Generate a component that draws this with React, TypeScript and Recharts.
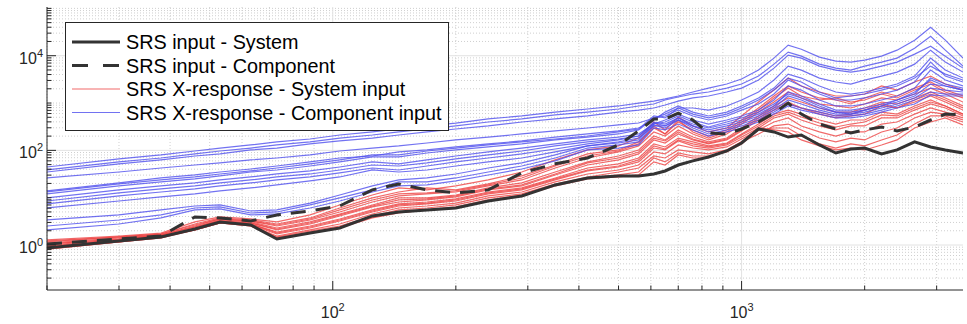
import React from 'react';
import { LineChart, Line, XAxis, YAxis, CartesianGrid, Legend } from 'recharts';

// ---------- data ----------
const FREQ = [20, 30, 38, 46, 53, 63, 73, 88, 104, 125, 145, 170, 200, 240, 290, 350, 420, 500, 560, 610, 650, 700, 760, 830, 920, 1000, 1100, 1200, 1300, 1400, 1550, 1700, 1850, 2000, 2200, 2400, 2650, 2900, 3150, 3480];

const SRS_INPUT_SYSTEM = [0.86, 1.22, 1.48, 2.18, 3.07, 2.65, 1.34, 1.79, 2.29, 4.11, 4.99, 5.51, 6.06, 8.5, 10.9, 18.6, 26.1, 28.8, 28.8, 31.7, 36.7, 49, 60, 72.5, 97, 143, 283, 245, 191, 211, 130, 88, 107, 112, 84, 102, 151, 118, 102, 88];
const SRS_INPUT_COMPONENT = [1.05, 1.34, 1.55, 3.92, 3.73, 3.22, 4.32, 5.24, 6.68, 14.6, 19.5, 14.6, 12.6, 14.6, 33.3, 52, 69, 130, 257, 461, 461, 613, 438, 233, 222, 283, 397, 613, 1000, 584, 360, 283, 233, 270, 312, 257, 312, 438, 584, 560];

// X-response, component input (blue)
const COMP_RESP_1 = [44.5, 66, 80, 97, 112, 130, 151, 174, 211, 245, 283, 328, 378, 461, 533, 644, 749, 867, 1000, 1100, 1220, 1410, 1710, 2070, 2520, 3210, 4970, 8900, 16700, 13700, 9340, 7690, 7320, 8070, 9800, 13100, 21300, 39900, 21300, 8900];
const COMP_RESP_2 = [34.9, 52, 63, 76, 84, 102, 112, 137, 158, 182, 211, 245, 283, 328, 397, 461, 533, 644, 710, 786, 910, 1100, 1280, 1410, 1710, 2070, 3060, 5470, 10300, 8900, 6030, 4970, 4510, 4970, 6030, 7320, 10800, 15900, 9800, 5470];
const COMP_RESP_3 = [26.1, 34.9, 42.4, 49, 54.5, 63, 69, 80, 97, 112, 124, 143, 166, 191, 222, 257, 297, 344, 378, 484, 584, 786, 786, 710, 867, 1160, 1710, 3060, 6030, 4970, 3370, 2780, 2520, 3060, 3710, 4510, 6640, 13100, 7320, 4510];
const COMP_RESP_4 = [13.9, 20.5, 26.1, 30.2, 34.9, 40.4, 46.7, 57, 69, 76, 92.5, 102, 118, 137, 158, 191, 222, 257, 297, 438, 644, 867, 644, 533, 644, 867, 1280, 2070, 4090, 3370, 2290, 1710, 1550, 1710, 2070, 2520, 3710, 8900, 4970, 3370];
const COMP_RESP_5 = [12.0, 17.7, 21.5, 24.9, 28.8, 34.9, 38.5, 46.7, 57, 72.5, 72.5, 88, 102, 118, 137, 166, 191, 222, 270, 484, 533, 710, 533, 438, 533, 710, 955, 1550, 3060, 2290, 1550, 1160, 1160, 1280, 1550, 1880, 2780, 7320, 3710, 2780];
const COMP_RESP_6 = [9.9, 14.6, 17.7, 20.5, 23.7, 27.4, 31.7, 36.7, 44.5, 57, 52, 63, 76, 92.5, 112, 137, 166, 191, 222, 360, 438, 584, 438, 360, 438, 533, 710, 1160, 2290, 1880, 1160, 867, 867, 955, 1160, 1410, 2070, 4970, 3060, 2290];
const COMP_RESP_7 = [7.37, 10.9, 13.2, 15.3, 17.7, 20.5, 23.7, 27.4, 33.3, 42.4, 38.5, 46.7, 57, 69, 84, 107, 137, 166, 201, 397, 360, 484, 360, 297, 360, 438, 584, 867, 1710, 1410, 955, 710, 710, 786, 955, 1160, 1550, 3370, 2520, 2070];
const COMP_RESP_8 = [6.06, 8.5, 10.4, 12.0, 13.9, 16.1, 18.6, 22.6, 27.4, 38.5, 34.9, 38.5, 46.7, 57, 69, 92.5, 124, 151, 182, 328, 328, 438, 328, 270, 328, 397, 533, 786, 1410, 1160, 786, 644, 644, 710, 867, 1050, 1410, 2520, 2290, 1880];
const COMP_RESP_9 = [3.38, 4.32, 5.51, 6.68, 7.02, 5.24, 5.51, 7.7, 11.4, 17.7, 23.7, 26.1, 31.7, 42.4, 54.5, 80, 124, 143, 166, 378, 328, 484, 328, 245, 297, 360, 484, 710, 1160, 955, 710, 584, 584, 644, 786, 955, 1280, 2070, 1880, 1710];
const COMP_RESP_10 = [2.52, 3.38, 4.32, 6.06, 6.37, 4.75, 4.99, 7.02, 9.9, 14.6, 21.5, 21.5, 26.1, 34.9, 46.7, 69, 112, 130, 151, 344, 297, 438, 297, 222, 270, 328, 438, 644, 955, 786, 644, 533, 533, 584, 710, 867, 1160, 1710, 1550, 1550];
const COMP_RESP_11 = [2.08, 2.78, 3.73, 5.51, 5.78, 4.32, 4.53, 6.06, 8.5, 13.2, 17.7, 18.6, 22.6, 30.2, 40.4, 60, 102, 112, 130, 297, 270, 360, 270, 201, 245, 297, 397, 584, 867, 710, 584, 484, 484, 533, 644, 786, 955, 1480, 1410, 1410];
const COMP_RESP_12 = [38.5, 57, 69, 84, 97, 112, 130, 151, 182, 211, 245, 283, 328, 397, 461, 560, 644, 749, 867, 955, 1160, 1340, 1550, 1710, 2070, 2520, 3710, 6640, 11900, 9800, 6640, 5470, 4970, 6030, 7320, 8900, 14400, 25800, 13100, 6030];
const COMP_RESP_13 = [13.2, 19.5, 23.7, 27.4, 31.7, 36.7, 42.4, 52, 63, 80, 80, 97, 112, 130, 151, 174, 201, 245, 283, 533, 484, 786, 584, 484, 584, 786, 1160, 1880, 3370, 2780, 1710, 1280, 1410, 1550, 1880, 2290, 3370, 6030, 4090, 3060];
const COMP_RESP_14 = [8.5, 12.6, 15.3, 17.7, 20.5, 23.7, 27.4, 31.7, 38.5, 49, 46.7, 54.5, 66, 80, 97, 124, 151, 174, 201, 360, 397, 533, 397, 312, 397, 484, 644, 955, 1550, 1280, 867, 644, 584, 710, 867, 1160, 1710, 3060, 2290, 1880];

// X-response, system input (red)
const SYS_RESP_1 = [1.28, 1.55, 1.79, 3.07, 3.92, 3.55, 3.07, 4.32, 7.02, 11.4, 16.1, 14.6, 17.7, 23.7, 34.9, 63, 102, 124, 182, 397, 270, 508, 328, 245, 297, 533, 1050, 1880, 3370, 2290, 1710, 1410, 1410, 1550, 2290, 1880, 2780, 3710, 2520, 1880];
const SYS_RESP_2 = [1.16, 1.48, 1.71, 2.78, 3.73, 3.38, 2.78, 3.73, 6.06, 9.9, 13.2, 16.1, 14.6, 19.5, 28.8, 49, 84, 102, 151, 297, 222, 397, 270, 201, 270, 438, 786, 1410, 2290, 1710, 1280, 1160, 955, 1280, 1710, 1410, 2070, 2780, 1880, 1410];
const SYS_RESP_3 = [1.10, 1.41, 1.63, 2.52, 3.55, 3.22, 2.52, 3.38, 4.99, 8.1, 10.9, 12.0, 13.2, 17.7, 23.7, 42.4, 69, 92.5, 124, 245, 201, 328, 222, 166, 222, 360, 644, 1050, 1710, 1280, 955, 867, 786, 955, 1280, 1160, 1550, 2070, 1550, 1050];
const SYS_RESP_4 = [1.05, 1.34, 1.63, 2.40, 3.38, 3.07, 2.29, 3.07, 4.53, 7.02, 9.9, 9.9, 11.4, 16.1, 20.5, 34.9, 57, 76, 102, 201, 166, 270, 191, 151, 182, 297, 533, 867, 1280, 1050, 786, 644, 644, 786, 1050, 955, 1280, 1710, 1280, 867];
const SYS_RESP_5 = [1.00, 1.28, 1.55, 2.29, 3.22, 2.92, 2.08, 2.78, 4.11, 6.37, 8.1, 8.95, 10.4, 14.6, 17.7, 30.2, 49, 63, 84, 166, 143, 222, 166, 137, 166, 257, 438, 710, 955, 786, 584, 484, 533, 584, 867, 786, 1050, 1410, 1050, 710];
const SYS_RESP_6 = [0.95, 1.28, 1.55, 2.18, 3.07, 2.78, 1.88, 2.52, 3.55, 5.51, 7.37, 8.1, 9.4, 13.2, 16.1, 26.1, 42.4, 52, 69, 137, 118, 182, 151, 124, 143, 222, 360, 584, 710, 584, 438, 360, 438, 438, 644, 584, 867, 1160, 867, 584];
const SYS_RESP_7 = [0.91, 1.22, 1.48, 2.08, 2.92, 2.65, 1.71, 2.29, 3.22, 4.99, 6.68, 7.37, 8.5, 12.0, 14.6, 23.7, 36.7, 44.5, 57, 112, 102, 158, 124, 112, 130, 191, 297, 484, 584, 438, 328, 270, 328, 328, 484, 484, 710, 955, 786, 533];
const SYS_RESP_8 = [0.86, 1.22, 1.48, 2.08, 2.92, 2.52, 1.55, 2.08, 2.78, 4.53, 6.06, 6.68, 7.7, 10.9, 13.2, 21.5, 31.7, 38.5, 49, 92.5, 84, 130, 112, 102, 118, 174, 270, 397, 484, 328, 245, 201, 245, 245, 360, 397, 584, 786, 644, 484];
const SYS_RESP_9 = [0.86, 1.16, 1.48, 2.18, 3.07, 2.65, 1.48, 1.98, 2.52, 4.11, 5.51, 6.06, 7.02, 9.9, 12.0, 19.5, 27.4, 34.9, 42.4, 76, 69, 102, 92.5, 84, 102, 151, 222, 328, 360, 270, 182, 151, 182, 166, 245, 297, 484, 644, 584, 438];
const SYS_RESP_10 = [0.82, 1.16, 1.41, 2.08, 2.92, 2.52, 1.41, 1.88, 2.40, 3.92, 4.99, 5.51, 6.37, 8.95, 11.4, 18.6, 26.1, 30.2, 34.9, 69, 57, 88, 76, 76, 92.5, 137, 270, 297, 297, 201, 137, 112, 137, 124, 166, 211, 360, 533, 533, 397];
const SYS_RESP_11 = [0.82, 1.16, 1.41, 2.18, 3.07, 2.65, 1.41, 1.79, 2.29, 3.73, 4.75, 5.51, 6.06, 8.5, 10.9, 17.7, 24.9, 27.4, 30.2, 57, 49, 80, 69, 69, 102, 151, 297, 270, 245, 166, 124, 102, 112, 102, 130, 166, 297, 397, 484, 344];
const SYS_RESP_12 = [1.22, 1.48, 1.71, 2.65, 3.55, 3.22, 2.65, 3.55, 5.51, 8.95, 12.0, 12.6, 13.9, 18.6, 26.1, 46.7, 76, 97, 137, 328, 222, 438, 245, 182, 245, 397, 710, 1280, 2070, 1410, 1160, 1280, 1050, 1160, 1550, 1280, 1880, 2520, 1710, 1280];
const SYS_RESP_13 = [1.05, 1.34, 1.63, 2.40, 3.22, 2.92, 2.18, 2.92, 4.32, 6.68, 8.95, 9.4, 10.9, 15.3, 18.6, 31.7, 54.5, 69, 92.5, 182, 158, 245, 174, 143, 174, 270, 484, 786, 1050, 786, 644, 533, 584, 710, 955, 786, 1160, 1550, 1160, 786];
const SYS_RESP_14 = [0.91, 1.22, 1.55, 2.18, 3.07, 2.78, 1.79, 2.40, 3.38, 5.24, 7.02, 7.7, 8.95, 12.6, 15.3, 24.9, 38.5, 46.7, 63, 124, 107, 166, 137, 118, 137, 211, 328, 533, 644, 508, 378, 312, 360, 397, 560, 533, 786, 1050, 867, 584];

const X_MAJOR = [100, 1000];
const X_MINOR = [20, 30, 40, 50, 60, 70, 80, 90, 200, 300, 400, 500, 600, 700, 800, 900, 2000, 3000];
const Y_MAJOR = [1, 100, 10000];
const Y_MINOR = [0.2, 0.3, 0.4, 0.5, 0.6, 0.7, 0.8, 0.9, 2, 3, 4, 5, 6, 7, 8, 9, 10, 20, 30, 40, 50, 60, 70, 80, 90, 200, 300, 400, 500, 600, 700, 800, 900, 1000, 2000, 3000, 4000, 5000, 6000, 7000, 8000, 9000, 20000, 30000, 40000, 50000, 60000, 70000, 80000, 90000, 100000];
const X_TICKS = [...X_MINOR, ...X_MAJOR].sort((a, b) => a - b);
const Y_TICKS = [...Y_MINOR, ...Y_MAJOR].sort((a, b) => a - b);
const X_LABELS: Record<number, string> = { 100: '2', 1000: '3' };
const Y_LABELS: Record<number, string> = { 1: '0', 100: '2', 10000: '4' };

const LEGEND_LABELS = ['SRS input - System', 'SRS input - Component', 'SRS X-response - System input', 'SRS X-response - Component input'];

// ---------- styles ----------
const FONT = '"Liberation Sans", Arial, Helvetica, sans-serif';
const AXIS = '#262626';
const BLACK = '#333333';
const RED = '#ee4444';
const BLUE = '#4f4fee';
const DASH = '15 10';

const RED_SERIES = [SYS_RESP_1, SYS_RESP_2, SYS_RESP_3, SYS_RESP_4, SYS_RESP_5, SYS_RESP_6, SYS_RESP_7, SYS_RESP_8, SYS_RESP_9, SYS_RESP_10, SYS_RESP_11, SYS_RESP_12, SYS_RESP_13, SYS_RESP_14];
const BLUE_SERIES = [COMP_RESP_1, COMP_RESP_2, COMP_RESP_3, COMP_RESP_4, COMP_RESP_5, COMP_RESP_6, COMP_RESP_7, COMP_RESP_8, COMP_RESP_9, COMP_RESP_10, COMP_RESP_11, COMP_RESP_12, COMP_RESP_13, COMP_RESP_14];

const rows = FREQ.map((f, i) => {
  const r: any = { f, sys: SRS_INPUT_SYSTEM[i], comp: SRS_INPUT_COMPONENT[i] };
  RED_SERIES.forEach((s, k) => { r['r' + k] = s[i]; });
  BLUE_SERIES.forEach((s, k) => { r['b' + k] = s[i]; });
  return r;
});

const XTickBottom = (p: any) => {
  const v = p.payload.value;
  const major = X_MAJOR.includes(v);
  return (
    <g>
      <line x1={p.x} y1={p.y} x2={p.x} y2={p.y - (major ? 9 : 4.5)} stroke={AXIS} strokeWidth={1} />
      {X_LABELS[v] && (
        <text x={p.x} y={p.y + 28} textAnchor="middle" fontFamily={FONT} fontSize={16} fill={AXIS}>
          10<tspan dy={-7} fontSize={11}>{X_LABELS[v]}</tspan>
        </text>
      )}
    </g>
  );
};
const XTickTop = (p: any) => {
  const major = X_MAJOR.includes(p.payload.value);
  return <line x1={p.x} y1={p.y} x2={p.x} y2={p.y + (major ? 9 : 4.5)} stroke={AXIS} strokeWidth={1} />;
};
const YTickLeft = (p: any) => {
  const v = p.payload.value;
  const major = Y_MAJOR.includes(v);
  return (
    <g>
      <line x1={p.x} y1={p.y} x2={p.x + (major ? 9 : 4.5)} y2={p.y} stroke={AXIS} strokeWidth={1} />
      {Y_LABELS[v] && (
        <text x={p.x - 4} y={p.y + 8} textAnchor="end" fontFamily={FONT} fontSize={16} fill={AXIS}>
          10<tspan dy={-7} fontSize={11}>{Y_LABELS[v]}</tspan>
        </text>
      )}
    </g>
  );
};
const YTickRight = (p: any) => {
  const major = Y_MAJOR.includes(p.payload.value);
  return <line x1={p.x} y1={p.y} x2={p.x - (major ? 9 : 4.5)} y2={p.y} stroke={AXIS} strokeWidth={1} />;
};

const LegendBox = () => {
  const styles = [
    { c: BLACK, w: 3, d: undefined as string | undefined },
    { c: BLACK, w: 3, d: '16 15' },
    { c: RED, w: 1.2, d: undefined },
    { c: BLUE, w: 1.2, d: undefined },
  ];
  const rowsY = [20, 43.5, 67, 90.5];
  return (
    <svg width={384} height={109} style={{ display: 'block' }}>
      <rect x={0.5} y={0.5} width={383} height={108} fill="#ffffff" stroke={AXIS} strokeWidth={1} />
      {LEGEND_LABELS.map((label, i) => (
        <g key={label}>
          <line x1={7} x2={55} y1={rowsY[i]} y2={rowsY[i]} stroke={styles[i].c} strokeWidth={styles[i].w} strokeDasharray={styles[i].d} strokeOpacity={i >= 2 ? 0.8 : 1} />
          <text x={61} y={rowsY[i] + 7} fontFamily={FONT} fontSize={19.8} fill="#000">{label}</text>
        </g>
      ))}
    </svg>
  );
};

export default function App() {
  return (
    <div style={{ position: 'absolute', left: 0, top: 0, background: '#fff' }}>
      <LineChart width={967} height={324} data={rows} margin={{ top: 7, right: 4, bottom: 0, left: 0 }}>
        <CartesianGrid verticalValues={X_MINOR} horizontalValues={Y_MINOR} stroke="#cfcfcf" strokeDasharray="1 2" />
        <CartesianGrid verticalValues={X_MAJOR} horizontalValues={Y_MAJOR} stroke="#e2e2e2" />
        <XAxis dataKey="f" type="number" scale="log" domain={[20, 3480]} allowDataOverflow ticks={X_TICKS} interval={0}
          height={34} tickSize={0} tickMargin={0} tickLine={false} tick={XTickBottom} axisLine={{ stroke: AXIS }} />
        <XAxis xAxisId="top" orientation="top" dataKey="f" type="number" scale="log" domain={[20, 3480]} allowDataOverflow ticks={X_TICKS} interval={0}
          height={0} tickSize={0} tickMargin={0} tickLine={false} tick={XTickTop} axisLine={{ stroke: AXIS }} />
        <YAxis type="number" scale="log" domain={[0.112, 107000]} allowDataOverflow ticks={Y_TICKS} interval={0}
          width={47} tickSize={0} tickMargin={0} tickLine={false} tick={YTickLeft} axisLine={{ stroke: AXIS }} />
        <YAxis yAxisId="right" orientation="right" type="number" scale="log" domain={[0.112, 107000]} allowDataOverflow ticks={Y_TICKS} interval={0}
          width={0} tickSize={0} tickMargin={0} tickLine={false} tick={YTickRight} axisLine={{ stroke: AXIS }} />
        {RED_SERIES.map((_, k) => (
          <Line key={'r' + k} dataKey={'r' + k} name={k === 0 ? LEGEND_LABELS[2] : undefined} legendType={k === 0 ? 'line' : 'none'}
            stroke={RED} strokeOpacity={0.8} strokeWidth={1.2} dot={false} activeDot={false} isAnimationActive={false} />
        ))}
        {BLUE_SERIES.map((_, k) => (
          <Line key={'b' + k} dataKey={'b' + k} name={k === 0 ? LEGEND_LABELS[3] : undefined} legendType={k === 0 ? 'line' : 'none'}
            stroke={BLUE} strokeOpacity={0.8} strokeWidth={1.2} dot={false} activeDot={false} isAnimationActive={false} />
        ))}
        <Line dataKey="sys" name={LEGEND_LABELS[0]} stroke={BLACK} strokeWidth={3} dot={false} activeDot={false} isAnimationActive={false} />
        <Line dataKey="comp" name={LEGEND_LABELS[1]} stroke={BLACK} strokeWidth={3} strokeDasharray={DASH} dot={false} activeDot={false} isAnimationActive={false} />
        <Legend layout="vertical" align="center" verticalAlign="middle" content={() => <LegendBox />}
          wrapperStyle={{ left: 65, top: 22, width: 384, height: 109 }} />
      </LineChart>
    </div>
  );
}
